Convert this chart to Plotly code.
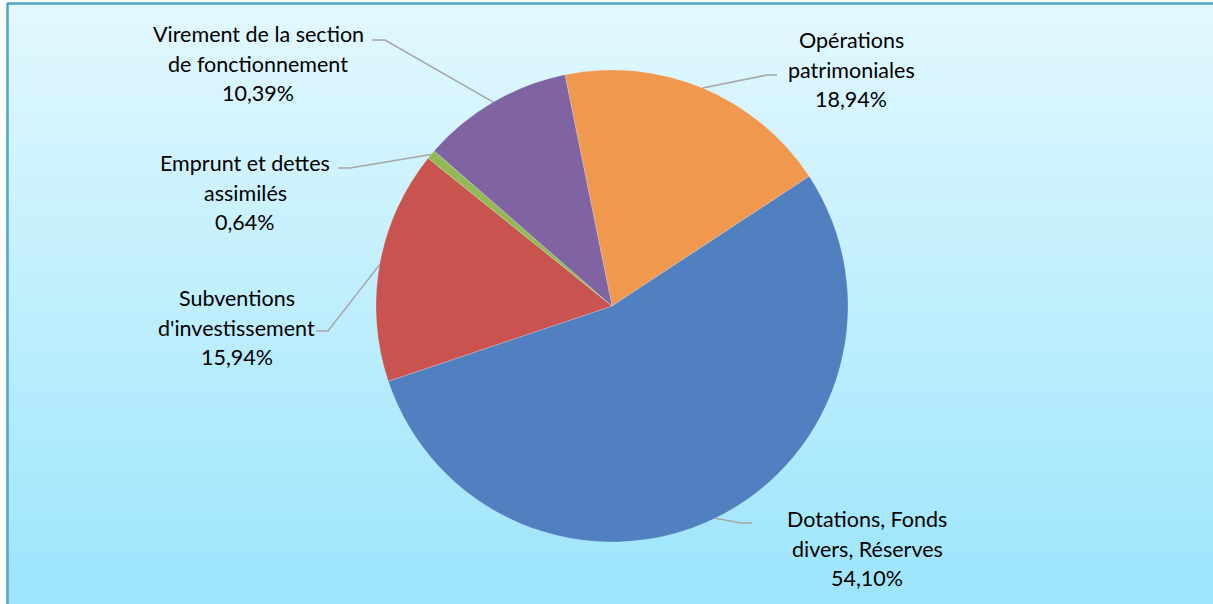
import math
import plotly.graph_objects as go

# ---- data ----
labels = ["Opérations patrimoniales", "Dotations, Fonds divers, Réserves",
          "Subventions d'investissement", "Emprunt et dettes assimilés",
          "Virement de la section de fonctionnement"]
values = [18.94, 54.10, 15.94, 0.64, 10.39]
pct_text = ["18,94%", "54,10%", "15,94%", "0,64%", "10,39%"]
label_lines = [["Opérations", "patrimoniales"],
               ["Dotations, Fonds", "divers, Réserves"],
               ["Subventions", "d'investissement"],
               ["Emprunt et dettes", "assimilés"],
               ["Virement de la section", "de fonctionnement"]]
colors = ["#f0984e", "#5080bf", "#c9534f", "#93b957", "#7f63a2"]

# ---- layout ----
W, H = 1213, 604
CX, CY, R = 612, 306, 236
ROT = -11.5
# label block centre (x, first line y)
label_pos = [(851, 40), (867, 519), (237, 298), (245, 163), (258, 34)]
# leader line: label-side end (x, y) and elbow x
line_anchor = [(777, 75, 767), (752, 523, 741), (316, 331, 328),
               (338, 168, 350), (372, 40, 385)]
LH = 29.5

def px(x):
    return x / W

def py(y):
    return 1 - y / H

fig = go.Figure()
fig.add_trace(go.Pie(
    labels=labels, values=values, sort=False, direction="clockwise",
    rotation=ROT, marker=dict(colors=colors, line=dict(color="rgba(255,255,255,0.25)", width=0.8)),
    textinfo="none", hoverinfo="label+percent", showlegend=False,
    domain=dict(x=[px(CX - R), px(CX + R)], y=[py(CY + R), py(CY - R)]),
))

shapes = []
# gradient background
top = (0xe2, 0xf8, 0xfe)
bot = (0x9c, 0xe5, 0xfc)
N = 80
y0p, y1p = 4, H
for i in range(N):
    t = i / (N - 1)
    c = tuple(round(top[k] + (bot[k] - top[k]) * t) for k in range(3))
    ya = y0p + (y1p - y0p) * i / N
    yb = y0p + (y1p - y0p) * (i + 1) / N + 1
    shapes.append(dict(type="rect", xref="paper", yref="paper", layer="below",
                       x0=px(8), x1=1.01, y0=py(min(yb, H + 2)), y1=py(ya),
                       line=dict(width=0), fillcolor="rgb(%d,%d,%d)" % c))
# border
shapes.append(dict(type="line", xref="paper", yref="paper", x0=px(7), x1=1.01,
                   y0=py(3.5), y1=py(3.5), line=dict(color="#4aa6c6", width=2.5)))
shapes.append(dict(type="line", xref="paper", yref="paper", x0=px(7.5), x1=px(7.5),
                   y0=py(3), y1=-0.01, line=dict(color="#4aa6c6", width=2.5)))

# leader lines from slice mid-angle on the rim
total = sum(values)
cum = 0.0
annotations = []
for i, v in enumerate(values):
    mid = ROT + (cum + v / 2) / total * 360
    cum += v
    a = math.radians(mid)
    ex, ey = CX + R * math.sin(a), CY - R * math.cos(a)
    ax, ay, elx = line_anchor[i]
    shapes.append(dict(type="path", xref="paper", yref="paper",
                       path="M %f %f L %f %f L %f %f" % (px(ax), py(ay), px(elx), py(ay), px(ex), py(ey)),
                       line=dict(color="#a6a6a6", width=1.5)))
    lx, ly = label_pos[i]
    for j, t in enumerate(label_lines[i] + [pct_text[i]]):
        annotations.append(dict(x=px(lx), y=py(ly + j * LH), xref="paper", yref="paper",
                                text=t, showarrow=False, xanchor="center", yanchor="middle",
                                font=dict(family="Lato, Carlito, sans-serif", size=21.5, color="#000000")))

fig.update_layout(width=W, height=H, margin=dict(l=0, r=0, t=0, b=0),
                  paper_bgcolor="white", plot_bgcolor="white",
                  shapes=shapes, annotations=annotations)
fig.write_html("out.html", config={"displayModeBar": False},
               post_script="document.body.style.margin='0';document.body.style.overflow='hidden';")
